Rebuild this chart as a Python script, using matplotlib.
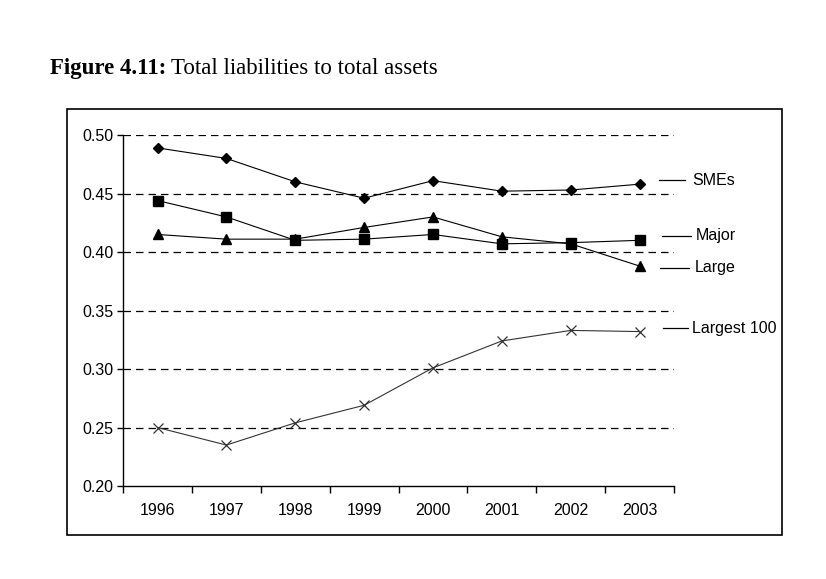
import matplotlib
matplotlib.use('Agg')
import matplotlib.pyplot as plt
import matplotlib.transforms as mtransforms
from matplotlib.patches import Rectangle
import numpy as np

# Datos
anios = ['1996', '1997', '1998', '1999', '2000', '2001', '2002', '2003']
smes = [0.489, 0.480, 0.460, 0.446, 0.461, 0.452, 0.453, 0.458]
major = [0.444, 0.430, 0.410, 0.411, 0.415, 0.407, 0.408, 0.410]
large = [0.415, 0.411, 0.411, 0.421, 0.430, 0.413, 0.407, 0.388]
largest100 = [0.250, 0.235, 0.254, 0.269, 0.301, 0.324, 0.333, 0.332]
y_ticks = [0.20, 0.25, 0.30, 0.35, 0.40, 0.45, 0.50]

plt.rcParams['font.family'] = ['Liberation Sans', 'DejaVu Sans']

fig = plt.figure(figsize=(8.26, 5.79), dpi=100)
ax = fig.add_axes([0.149, 0.1606, 0.667, 0.6062])

x = np.arange(len(anios))

# Rejilla discontinua
for v in y_ticks[1:]:
    ax.axhline(v, color='black', lw=0.9, dashes=(6, 4), zorder=1)

ax.plot(x, smes, color='black', lw=0.8, marker='D', ms=5.5, zorder=3)
ax.plot(x, major, color='black', lw=0.8, marker='s', ms=6.5, zorder=3)
ax.plot(x, large, color='black', lw=0.8, marker='^', ms=7, zorder=3)
ax.plot(x, largest100, color='#333333', lw=0.8, marker='x', ms=7, mew=0.9, zorder=3)

ax.set_xlim(-0.5, len(anios) - 0.5)
ax.set_ylim(0.20, 0.50)
ax.set_yticks(y_ticks)
ax.set_yticklabels([f'{v:.2f}' for v in y_ticks])
ax.set_xticks(x)
ax.set_xticklabels(anios)
ax.set_xticks(np.arange(-0.5, len(anios), 1.0), minor=True)
ax.tick_params(axis='x', which='major', length=0, pad=12, labelsize=11.5)
ax.tick_params(axis='x', which='minor', length=5, width=1, direction='out')
ax.tick_params(axis='y', length=4, width=1, direction='out', labelsize=11.5, pad=3)

for s in ['top', 'right']:
    ax.spines[s].set_visible(False)
for s in ['left', 'bottom']:
    ax.spines[s].set_linewidth(1)

# Etiquetas de las series
trans = mtransforms.blended_transform_factory(ax.transAxes, ax.transData)
etiquetas = [('SMEs', 0.4615, 0.973, 1.020, 1.034),
             ('Major', 0.4140, 0.978, 1.031, 1.040),
             ('Large', 0.3865, 0.975, 1.027, 1.038),
             ('Largest 100', 0.335, 0.980, 1.025, 1.033)]
for nombre, yv, x0, x1, xt in etiquetas:
    ax.plot([x0, x1], [yv, yv], color='black', lw=0.9, transform=trans, clip_on=False)
    ax.text(xt, yv, nombre, transform=trans, va='center', ha='left', fontsize=11.5)

# Marco exterior
fig.patches.append(Rectangle((0.0811, 0.076), 0.8656, 0.7358, transform=fig.transFigure,
                             fill=False, edgecolor='black', lw=1.2))

# Título
t1 = fig.text(0.0605, 0.873, 'Figure 4.11:', family='Liberation Serif', fontweight='bold',
              fontsize=16.5, va='baseline')
fig.canvas.draw()
bb = t1.get_window_extent()
x_fig = bb.x1 / fig.bbox.width
fig.text(x_fig + 0.006, 0.873, 'Total liabilities to total assets', family='Liberation Serif',
         fontsize=16.5, va='baseline')

fig.savefig('out.png', dpi=100)
